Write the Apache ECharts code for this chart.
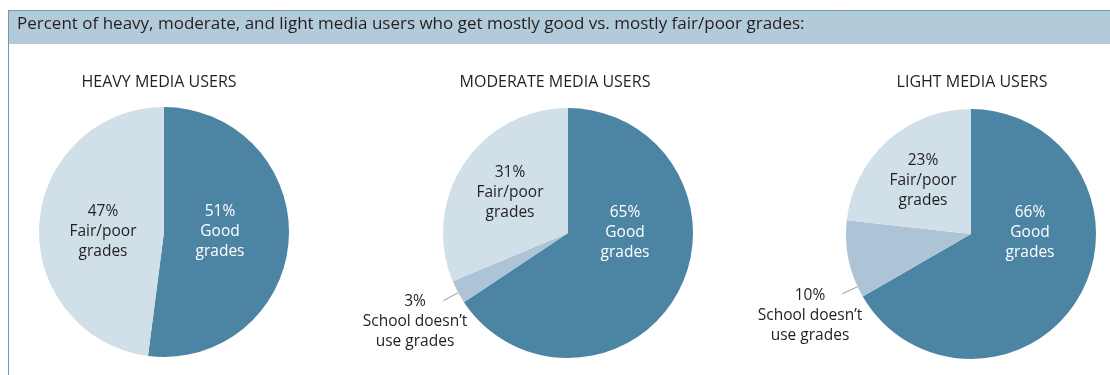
<!DOCTYPE html>
<html>
<head>
<meta charset="utf-8">
<title>Media use and grades</title>
<script src="https://cdn.jsdelivr.net/npm/echarts@6/dist/echarts.min.js"></script>
<style>
  html, body { margin: 0; padding: 0; background: #ffffff; }
  #chart { width: 1110px; height: 375px; }
</style>
</head>
<body>
<div id="chart"></div>
<script>
// ---- data ----
const groups = ['HEAVY MEDIA USERS', 'MODERATE MEDIA USERS', 'LIGHT MEDIA USERS'];
const categories = ['Good\ngrades', 'School doesn’t\nuse grades', 'Fair/poor\ngrades'];
const goodGrades = [51, 65, 66];
const noGrades = [null, 3, 10];
const fairPoorGrades = [47, 31, 23];
const headline = 'Percent of heavy, moderate, and light media users who get mostly good vs. mostly fair/poor grades:';

// ---- layout & style ----
const FONT = '"Open Sans", "Noto Sans", sans-serif';
const TEXT = '#231f20';
const SLICE_COLORS = ['#4c84a4', '#adc4d7', '#d1dfe8'];
const LABEL_COLORS = ['#ffffff', TEXT, TEXT];
const PIE_CENTERS = [[164, 232], [568, 233], [971, 234]];
const PIE_RADIUS = 125;
const GROUP_TITLE_X = [159, 555, 972];
// label block centre, relative to pie centre, per slice [good, noGrades, fair]
const LABEL_OFFSETS = [
  [[56, 0], null, [-61, 0]],
  [[57, 0], [-153, 89], [-58, -40]],
  [[59, -1], [-161, 82], [-48, -53]]
];
// where along the small slice (0 = its start, 1 = its end) the leader line leaves the pie
const LEADER_POS = [null, 0.47, 0.14];
const LEADER_LEN = 17;

const chart = echarts.init(document.getElementById('chart'), null, { renderer: 'canvas' });

function valuesOf(i) {
  return [goodGrades[i], noGrades[i], fairPoorGrades[i]];
}

function pieData(i) {
  const out = [];
  valuesOf(i).forEach((v, k) => {
    if (v == null) return;
    out.push({
      value: v,
      name: categories[k],
      catIndex: k,
      itemStyle: { color: SLICE_COLORS[k] },
      label: { color: LABEL_COLORS[k] }
    });
  });
  return out;
}

// leader lines from the rim of the "no grades" slice, angles derived from the slice values
function leaderLines() {
  const lines = [];
  groups.forEach((g, i) => {
    const vals = valuesOf(i);
    if (vals[1] == null) return;
    const total = vals.reduce((s, v) => s + (v || 0), 0);
    const start = vals[0] / total * 360;
    const span = vals[1] / total * 360;
    const a = (start + span * LEADER_POS[i]) * Math.PI / 180;
    const c = PIE_CENTERS[i];
    const r1 = PIE_RADIUS, r2 = PIE_RADIUS + LEADER_LEN;
    lines.push({
      type: 'line',
      silent: true,
      shape: {
        x1: c[0] + r1 * Math.sin(a), y1: c[1] - r1 * Math.cos(a),
        x2: c[0] + r2 * Math.sin(a), y2: c[1] - r2 * Math.cos(a)
      },
      style: { stroke: '#9a9a9a', lineWidth: 1 }
    });
  });
  return lines;
}

const series = groups.map((g, i) => ({
  type: 'pie',
  center: PIE_CENTERS[i],
  radius: [0, PIE_RADIUS],
  startAngle: 90,
  clockwise: true,
  silent: true,
  animation: false,
  avoidLabelOverlap: false,
  itemStyle: { borderWidth: 0 },
  label: {
    show: true,
    position: 'inner',
    fontFamily: FONT,
    fontSize: 15.5,
    lineHeight: 20,
    align: 'center',
    formatter: p => p.value + '%\n' + p.name
  },
  labelLine: { show: false },
  labelLayout: function (params) {
    const data = chart.getModel().getSeriesByIndex(params.seriesIndex).getData();
    const k = data.getRawDataItem(params.dataIndex).catIndex;
    const off = LABEL_OFFSETS[params.seriesIndex][k];
    const c = PIE_CENTERS[params.seriesIndex];
    return { x: c[0] + off[0], y: c[1] + off[1], align: 'center', verticalAlign: 'middle' };
  },
  data: pieData(i)
}));

const option = {
  backgroundColor: '#ffffff',
  animation: false,
  graphic: [
    { type: 'rect', z: -1, silent: true, shape: { x: 8, y: 10, width: 1110, height: 34 }, style: { fill: '#b3cadb' } },
    { type: 'line', silent: true, shape: { x1: 8, y1: 10.5, x2: 1110, y2: 10.5 }, style: { stroke: '#6f9bba', lineWidth: 1 } },
    { type: 'line', silent: true, shape: { x1: 8.5, y1: 10, x2: 8.5, y2: 375 }, style: { stroke: '#6f9bba', lineWidth: 1 } }
  ].concat(leaderLines()),
  title: [
    { text: headline, left: 17, top: 16, padding: 0,
      textStyle: { fontFamily: FONT, fontSize: 17, fontWeight: 'normal', color: TEXT } }
  ].concat(groups.map((g, i) => ({
    text: g, left: GROUP_TITLE_X[i], top: 74, padding: 0, textAlign: 'center',
    textStyle: { fontFamily: FONT, fontSize: 16, fontWeight: 'normal', color: TEXT }
  }))),
  series: series
};

chart.setOption(option);
</script>
</body>
</html>
